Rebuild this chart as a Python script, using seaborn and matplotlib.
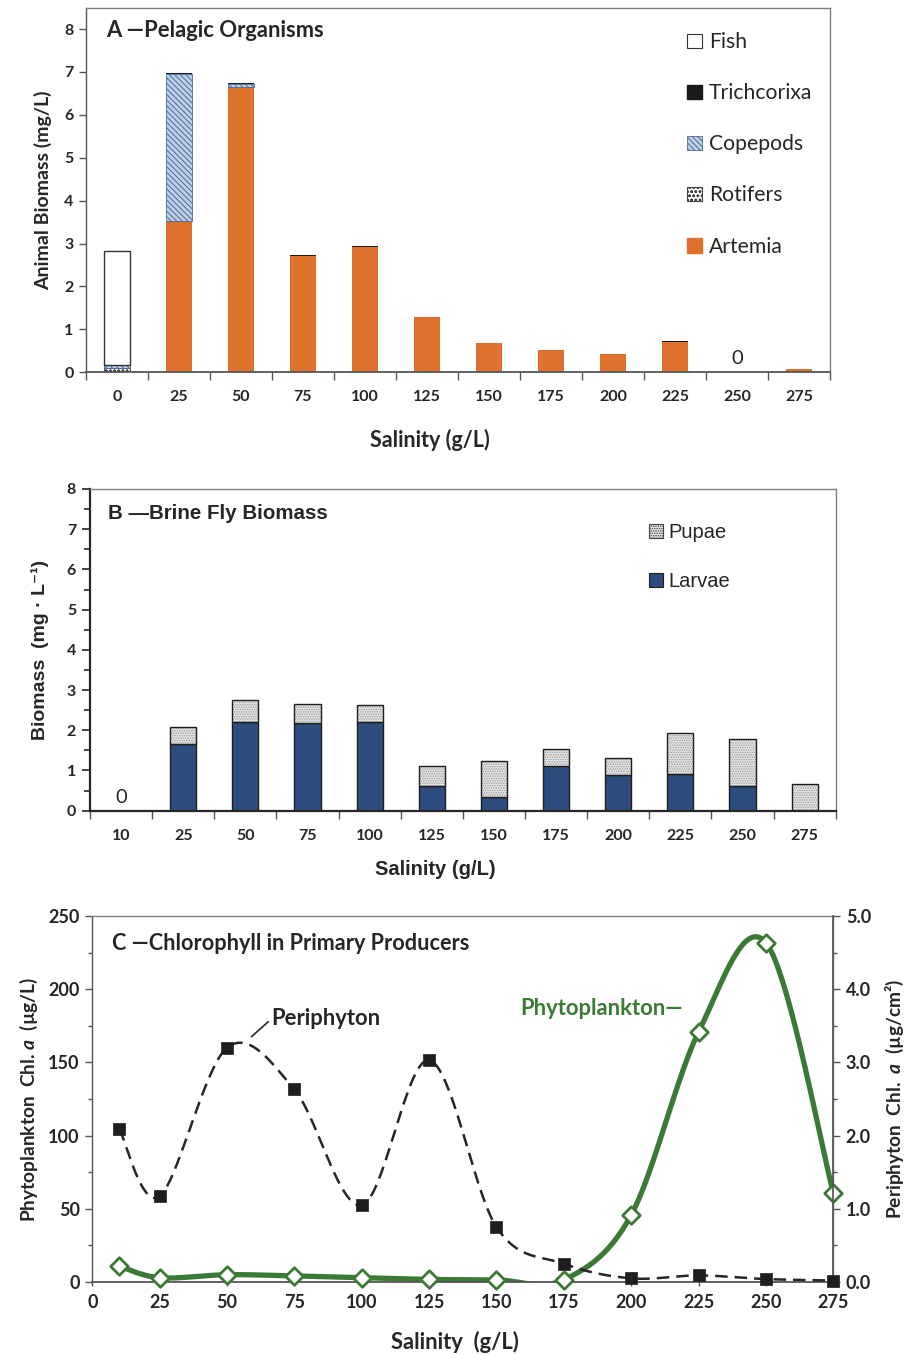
import numpy as np
import matplotlib
matplotlib.use("Agg")
import matplotlib.pyplot as plt
from matplotlib.patches import Patch
import seaborn as sns

# ---------------- data ----------------
# Panel A: pelagic organisms (mg/L), stacked bottom -> top
sal_a = ["0", "25", "50", "75", "100", "125", "150", "175", "200", "225", "250", "275"]
artemia = [0.00, 3.53, 6.65, 2.72, 2.93, 1.30, 0.69, 0.51, 0.43, 0.70, 0.00, 0.07]
rotifers = [0.10, 0.00, 0.00, 0.00, 0.00, 0.00, 0.00, 0.00, 0.00, 0.00, 0.00, 0.00]
copepods = [0.07, 3.43, 0.07, 0.00, 0.00, 0.00, 0.00, 0.00, 0.00, 0.00, 0.00, 0.00]
trichcorixa = [0.00, 0.02, 0.02, 0.02, 0.02, 0.00, 0.00, 0.00, 0.00, 0.02, 0.00, 0.00]
fish = [2.66, 0.00, 0.00, 0.00, 0.00, 0.00, 0.00, 0.00, 0.00, 0.00, 0.00, 0.00]

# Panel B: brine fly biomass (mg/L)
sal_b = ["10", "25", "50", "75", "100", "125", "150", "175", "200", "225", "250", "275"]
larvae = [0.00, 1.66, 2.21, 2.17, 2.20, 0.62, 0.33, 1.11, 0.88, 0.91, 0.62, 0.00]
pupae = [0.00, 0.42, 0.55, 0.48, 0.42, 0.50, 0.91, 0.42, 0.42, 1.03, 1.16, 0.66]

# Panel C: chlorophyll a
sal_c = [10, 25, 50, 75, 100, 125, 150, 175, 200, 225, 250, 275]
phytoplankton = [10.9, 2.9, 5.0, 4.1, 2.9, 1.8, 1.4, 1.5, 45.8, 170.8, 231.8, 61.0]   # ug/L
periphyton = [2.09, 1.17, 3.20, 2.63, 1.05, 3.03, 0.75, 0.25, 0.05, 0.09, 0.04, 0.02]  # ug/cm2

# ---------------- style ----------------
sns.set_theme(style="white")
CAL = ["Lato", "DejaVu Sans"]
ARI = ["Liberation Sans", "DejaVu Sans"]
plt.rcParams["font.family"] = CAL
plt.rcParams["hatch.linewidth"] = 0.7
plt.rcParams["mathtext.fontset"] = "custom"
plt.rcParams["mathtext.it"] = "Lato:italic:bold"
plt.rcParams["mathtext.rm"] = "Lato:bold"

ORANGE = "#DE712C"
NAVY = "#2E4D7F"
GREEN = "#3B7A34"
DARK = "#262626"
SPINE = "#555555"

fig = plt.figure(figsize=(9.16, 13.55), dpi=100)
W, H = 916, 1355


def axes_px(left, top, right, bottom):
    return fig.add_axes([left / W, 1 - bottom / H, (right - left) / W, (bottom - top) / H])


def stacked(ax, cats, vals, base, color, **kw):
    """Draw one stacked layer, skipping categories where the layer is empty."""
    idx = [i for i, v in enumerate(vals) if v > 0]
    sns.barplot(x=[cats[i] for i in idx], y=[vals[i] for i in idx],
                bottom=[base[i] for i in idx], order=cats, width=0.42,
                color=color, saturation=1, ax=ax, **kw)


def category_axis(ax, cats, family, size):
    n = len(cats)
    ax.set_xlim(-0.5, n - 0.5)
    ax.set_xticks(np.arange(-0.5, n, 1.0))
    ax.set_xticklabels([])
    ax.set_xticks(np.arange(n), minor=True)
    ax.set_xticklabels(cats, minor=True, fontweight="bold", fontsize=size, family=family)
    ax.tick_params(axis="x", which="major", direction="out", length=6, width=1, color=SPINE, bottom=True)
    ax.tick_params(axis="x", which="minor", length=0, pad=13, bottom=True)


def frame(ax):
    for s in ax.spines.values():
        s.set_visible(True)
        s.set_color("#808080")
        s.set_linewidth(1)
    ax.spines["left"].set_color(SPINE)
    ax.spines["bottom"].set_color(SPINE)
    ax.spines["bottom"].set_linewidth(1.3)


# ================= Panel A =================
axA = axes_px(86, 8, 830, 372.3)
base = np.zeros(len(sal_a))
stacked(axA, sal_a, artemia, base, ORANGE, linewidth=0)
base = base + np.array(artemia)
stacked(axA, sal_a, rotifers, base, "white", edgecolor="#444444",
        hatch="oooo", linewidth=0.8)
base = base + np.array(rotifers)
stacked(axA, sal_a, copepods, base, "#BCD0E8", edgecolor="#4D6A96",
        hatch="\\\\\\\\\\\\", linewidth=0.6)
base = base + np.array(copepods)
stacked(axA, sal_a, trichcorixa, base, "#1A1A1A", linewidth=0)
base = base + np.array(trichcorixa)
stacked(axA, sal_a, fish, base, "white", edgecolor="#333333", linewidth=1.0)

axA.set_ylim(0, 8.49)
axA.set_yticks(range(0, 9))
axA.set_yticklabels([str(v) for v in range(0, 9)], fontweight="bold", fontsize=11.5)
axA.tick_params(axis="y", direction="out", length=5, width=1, color=SPINE, left=True, pad=4)
category_axis(axA, sal_a, CAL, 11.5)
frame(axA)
axA.set_ylabel("Animal Biomass (mg/L)", fontweight="bold", fontsize=14, labelpad=9)
axA.set_xlabel("Salinity (g/L)", fontweight="bold", fontsize=15.5)
axA.xaxis.set_label_coords(0.462, -0.155)
axA.text(0.027, 0.937, "A \u2014Pelagic Organisms", transform=axA.transAxes,
         fontsize=15.8, fontweight="bold", va="center", ha="left")
axA.text(10, 0.33, "0", ha="center", va="center", fontsize=14.5)

handlesA = [
    Patch(facecolor="white", edgecolor="#333333", linewidth=0.8, label="Fish"),
    Patch(facecolor="#1A1A1A", edgecolor="#1A1A1A", label="Trichcorixa"),
    Patch(facecolor="#BCD0E8", edgecolor="#4D6A96", hatch="\\\\\\\\\\\\", linewidth=0.6, label="Copepods"),
    Patch(facecolor="white", edgecolor="#444444", hatch="oooo", linewidth=0.8, label="Rotifers"),
    Patch(facecolor=ORANGE, edgecolor=ORANGE, label="Artemia"),
]
axA.legend(handles=handlesA, loc="upper left", bbox_to_anchor=(0.7935, 0.962),
           frameon=False, fontsize=15.2, labelspacing=1.47, handlelength=0.7,
           handleheight=0.7, handletextpad=0.35, borderpad=0)

# ================= Panel B =================
axB = axes_px(90, 489, 835.7, 810.7)
lz = np.zeros(len(sal_b))
stacked(axB, sal_b, larvae, lz, NAVY, edgecolor="#1E1E1E", linewidth=1.0)
# pupae: dotted fill, then a dark outline
stacked(axB, sal_b, pupae, np.array(larvae), "#E4E4E4", edgecolor="#9A9A9A",
        hatch=".......", linewidth=0)
stacked(axB, sal_b, pupae, np.array(larvae), "#1E1E1E", fill=False, linewidth=1.0)

axB.set_ylim(0, 8)
axB.set_yticks(range(0, 9))
axB.set_yticklabels([str(v) for v in range(0, 9)], fontweight="bold", fontsize=11.5)
axB.set_yticks(np.arange(0.5, 8, 1.0), minor=True)
axB.tick_params(axis="y", which="major", direction="out", length=6, width=1.2, color=DARK, left=True, pad=4)
axB.tick_params(axis="y", which="minor", direction="out", length=4, width=1.2, color=DARK, left=True)
category_axis(axB, sal_b, CAL, 11.5)
frame(axB)
axB.spines["left"].set_color(DARK)
axB.spines["left"].set_linewidth(1.6)
axB.spines["bottom"].set_color(DARK)
axB.spines["bottom"].set_linewidth(1.6)
axB.set_ylabel("Biomass  (mg \u00b7 L\u207b\u00b9)", fontweight="bold", fontsize=14,
               family=ARI, labelpad=13)
axB.set_xlabel("Salinity (g/L)", fontweight="bold", fontsize=14.5, family=ARI)
axB.xaxis.set_label_coords(0.463, -0.153)
axB.text(0.024, 0.925, "B \u2014Brine Fly Biomass", transform=axB.transAxes,
         fontsize=14.8, fontweight="bold", va="center", ha="left", family=ARI)
axB.text(0, 0.33, "0", ha="center", va="center", fontsize=14.5)

handlesB = [
    Patch(facecolor="#E4E4E4", edgecolor="#444444", hatch=".......", linewidth=0.8, label="Pupae"),
    Patch(facecolor=NAVY, edgecolor="#1E1E1E", linewidth=0.8, label="Larvae"),
]
axB.legend(handles=handlesB, loc="upper left", bbox_to_anchor=(0.7365, 0.926),
           frameon=False, prop={"family": ARI, "size": 14.5}, labelspacing=1.52,
           handlelength=0.7, handleheight=0.7, handletextpad=0.25, borderpad=0)

# ================= Panel C =================
axC = axes_px(92.3, 916, 833.3, 1282)
axC2 = axC.twinx()
XMAX, YMAX, Y2MAX = 275, 250, 5.0
axC.set_xlim(0, XMAX)
axC.set_ylim(0, YMAX)
axC2.set_ylim(0, Y2MAX)


def smooth_path(x, y, sx, sy, n=40):
    """Cubic Bezier smoothing through the points (spreadsheet-style smoothed line)."""
    P = np.column_stack([np.asarray(x, float) * sx, np.asarray(y, float) * sy])
    P = np.vstack([P[0], P, P[-1]])
    t = np.linspace(0, 1, n)[:, None]
    segs = []
    for i in range(1, len(P) - 2):
        p0, p1, p2, p3 = P[i - 1], P[i], P[i + 1], P[i + 2]
        c1 = p1 + (p2 - p0) / 6
        c2 = p2 - (p3 - p1) / 6
        seg = (1 - t) ** 3 * p1 + 3 * (1 - t) ** 2 * t * c1 + 3 * (1 - t) * t ** 2 * c2 + t ** 3 * p2
        segs.append(seg if i == 1 else seg[1:])
    out = np.vstack(segs)
    return out[:, 0] / sx, out[:, 1] / sy


pw, ph = 741.0, 366.0
gx, gy = smooth_path(sal_c, phytoplankton, pw / XMAX, ph / YMAX)
sns.lineplot(x=gx, y=gy, sort=False, estimator=None, color=GREEN, linewidth=3.8, ax=axC, zorder=2)
sns.scatterplot(x=sal_c, y=phytoplankton, marker="D", s=80, facecolor="white",
                edgecolor=GREEN, linewidth=2.0, ax=axC, zorder=4, clip_on=False)

px_, py_ = smooth_path(sal_c, periphyton, pw / XMAX, ph / Y2MAX)
sns.lineplot(x=px_, y=py_, sort=False, estimator=None, color=DARK, linewidth=1.8,
             linestyle=(0, (5, 2.8)), ax=axC2, zorder=2)
sns.scatterplot(x=sal_c, y=periphyton, marker="s", s=70, color="#1E1E1E",
                edgecolor="#1E1E1E", linewidth=0.5, ax=axC2, zorder=4, clip_on=False)

axC.set_xticks(range(0, 276, 25))
axC.set_xticklabels([str(v) for v in range(0, 276, 25)], fontweight="bold", fontsize=13)
axC.set_yticks(range(0, 251, 50))
axC.set_yticklabels([str(v) for v in range(0, 251, 50)], fontweight="bold", fontsize=13)
axC.set_yticks(range(25, 250, 50), minor=True)
axC.tick_params(axis="y", which="major", direction="out", length=5, width=1, color=SPINE, left=True, pad=4)
axC.tick_params(axis="y", which="minor", direction="out", length=3, width=1, color=SPINE, left=True)
axC.tick_params(axis="x", direction="out", length=3, width=1, color=SPINE, bottom=True, pad=6)
axC2.set_yticks(np.arange(0, 5.01, 1.0))
axC2.set_yticklabels([f"{v:.1f}" for v in np.arange(0, 5.01, 1.0)], fontweight="bold", fontsize=13)
axC2.set_yticks(np.arange(0.5, 5, 1.0), minor=True)
axC2.tick_params(axis="y", which="major", direction="out", length=5, width=1, color=SPINE, right=True, pad=4)
axC2.tick_params(axis="y", which="minor", direction="out", length=3, width=1, color=SPINE, right=True)
frame(axC)
for s in axC2.spines.values():
    s.set_visible(False)
axC2.spines["right"].set_visible(True)
axC2.spines["right"].set_color(SPINE)

axC.set_ylabel("Phytoplankton  Chl. $\\mathit{a}$  (\u00b5g/L)", fontweight="bold",
               fontsize=13.8, labelpad=6)
axC2.set_ylabel("Periphyton  Chl.  $\\mathit{a}$  (\u00b5g/cm\u00b2)", fontweight="bold",
                fontsize=13.8, labelpad=9)
axC.set_xlabel("Salinity  (g/L)", fontweight="bold", fontsize=15.8)
axC.xaxis.set_label_coords(0.489, -0.134)
axC.text(0.027, 0.926, "C \u2014Chlorophyll in Primary Producers", transform=axC.transAxes,
         fontsize=15.6, fontweight="bold", va="center", ha="left")

axC.plot([59.1, 65.3], [167.6, 177.8], color=DARK, linewidth=1.2)
axC.text(66.3, 180.3, "Periphyton", fontsize=15.8, fontweight="bold", va="center", ha="left")
axC.text(158.7, 186.5, "Phytoplankton\u2014", fontsize=15.8, fontweight="bold",
         va="center", ha="left", color=GREEN)

fig.savefig("out.png", dpi=100, facecolor="white")
